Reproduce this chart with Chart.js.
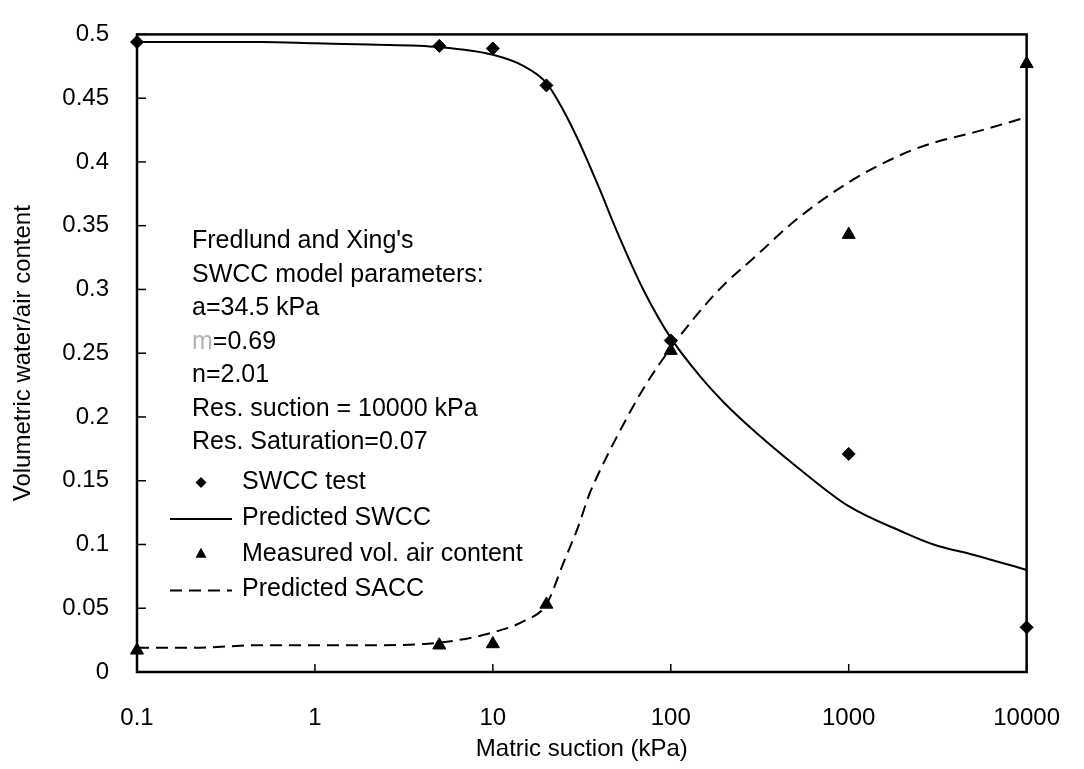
<!DOCTYPE html>
<html>
<head>
<meta charset="utf-8">
<title>SWCC and SACC</title>
<script src="https://cdn.jsdelivr.net/npm/chart.js@4.4.1/dist/chart.umd.min.js"></script>
<style>
    html, body { margin: 0; padding: 0; background: #fff; }
</style>
</head>
<body>
<canvas id="soilChart" width="1084" height="769"></canvas>
<script>
// measured points
const suctionTest = [0.1, 5, 10, 20, 100, 1000, 10000]
const swccTest = [0.494, 0.491, 0.489, 0.460, 0.260, 0.171, 0.035]
const airMeasured = [0.017, 0.021, 0.022, 0.053, 0.252, 0.343, 0.477]

// predicted curves
const suctionModel = [0.1, 0.2, 0.5, 1, 2, 5, 10, 15, 20, 25, 30, 35, 40, 50, 70,
    100, 150, 200, 300, 500, 1000, 2000, 3000, 5000, 10000]
const swccPredicted = [0.494, 0.494, 0.494, 0.493, 0.492, 0.490, 0.484, 0.475, 0.462, 0.440, 0.418,
    0.397, 0.378, 0.345, 0.300, 0.262, 0.230, 0.211, 0.188, 0.162, 0.130, 0.110, 0.100, 0.092, 0.080]
const saccPredicted = [0.019, 0.019, 0.021, 0.021, 0.021, 0.023, 0.031, 0.040, 0.053, 0.086, 0.113,
    0.140, 0.158, 0.185, 0.222, 0.254, 0.285, 0.304, 0.326, 0.354, 0.384, 0.406, 0.415, 0.423, 0.435]

const xTicks = [0.1, 1, 10, 100, 1000, 10000]
const yTicks = [0, 0.05, 0.1, 0.15, 0.2, 0.25, 0.3, 0.35, 0.4, 0.45, 0.5]

const paramLines = ["Fredlund and Xing's", 'SWCC model parameters:', 'a=34.5 kPa', '=0.69',
    'n=2.01', 'Res. suction = 10000 kPa', 'Res. Saturation=0.07']

const FONT = '"Liberation Sans", Arial, Helvetica, sans-serif'

function toPoints(xs, ys) {
    return xs.map(function (x, i) { return { x: x, y: ys[i] } })
}

// box round the plot plus inward tick marks
const frame = {
    id: 'frame',
    beforeDatasetsDraw(chart) {
        const ctx = chart.ctx
        const a = chart.chartArea
        const xs = chart.scales.x
        const ys = chart.scales.y
        ctx.save()
        ctx.strokeStyle = '#000'
        ctx.lineWidth = 1.5
        xTicks.forEach(function (v) {
            const px = xs.getPixelForValue(v)
            ctx.beginPath()
            ctx.moveTo(px, a.bottom)
            ctx.lineTo(px, a.bottom - 8)
            ctx.stroke()
        })
        yTicks.forEach(function (v) {
            const py = ys.getPixelForValue(v)
            ctx.beginPath()
            ctx.moveTo(a.left, py)
            ctx.lineTo(a.left + 9, py)
            ctx.stroke()
        })
        ctx.lineWidth = 2.5
        ctx.strokeRect(a.left, a.top, a.right - a.left, a.bottom - a.top)
        ctx.restore()
    }
}

// parameter note and key, drawn inside the plot
const noteBox = {
    id: 'noteBox',
    afterDraw(chart) {
        const ctx = chart.ctx
        const a = chart.chartArea
        const x0 = a.left + 55
        let y = a.top + 207
        ctx.save()
        ctx.font = '25px ' + FONT
        ctx.textBaseline = 'middle'
        ctx.textAlign = 'left'
        paramLines.forEach(function (line, i) {
            if (i === 3) {
                ctx.fillStyle = '#b5b5b5'
                ctx.fillText('m', x0, y)
                ctx.fillStyle = '#000'
                ctx.fillText(line, x0 + ctx.measureText('m').width, y)
            } else {
                ctx.fillStyle = '#000'
                ctx.fillText(line, x0, y)
            }
            y += 33.5
        })

        const keyX = a.left + 105
        const markX = a.left + 64
        let ky = a.top + 448
        chart.data.datasets.forEach(function () {})
        const keys = ['SWCC test', 'Predicted SWCC', 'Measured vol. air content', 'Predicted SACC']
        keys.forEach(function (label) {
            const ds = chart.data.datasets.find(function (d) { return d.label === label })
            ctx.fillStyle = '#000'
            ctx.strokeStyle = '#000'
            if (ds.showLine) {
                ctx.lineWidth = ds.borderWidth
                ctx.setLineDash(ds.borderDash || [])
                ctx.beginPath()
                ctx.moveTo(a.left + 33, ky + 1)
                ctx.lineTo(a.left + 95, ky + 1)
                ctx.stroke()
                ctx.setLineDash([])
            } else if (ds.pointStyle === 'rectRot') {
                ctx.beginPath()
                ctx.moveTo(markX, ky - 5.5)
                ctx.lineTo(markX + 5.5, ky)
                ctx.lineTo(markX, ky + 5.5)
                ctx.lineTo(markX - 5.5, ky)
                ctx.closePath()
                ctx.fill()
            } else {
                ctx.beginPath()
                ctx.moveTo(markX, ky - 6)
                ctx.lineTo(markX + 5.5, ky + 4)
                ctx.lineTo(markX - 5.5, ky + 4)
                ctx.closePath()
                ctx.fill()
            }
            ctx.fillText(label, keyX, ky)
            ky += 35.7
        })
        ctx.restore()
    }
}

function create_chart(targetId) {
    let ctx = document.getElementById(targetId)
    return new Chart(ctx, {
        type: 'scatter',
        data: {
            datasets: [
                {
                    label: 'SWCC test',
                    data: toPoints(suctionTest, swccTest),
                    pointStyle: 'rectRot',
                    pointRadius: 6.5,
                    backgroundColor: '#000',
                    borderColor: '#000',
                    borderWidth: 1,
                    showLine: false,
                    clip: false
                },
                {
                    label: 'Measured vol. air content',
                    data: toPoints(suctionTest, airMeasured),
                    pointStyle: 'triangle',
                    pointRadius: 7.5,
                    backgroundColor: '#000',
                    borderColor: '#000',
                    borderWidth: 1,
                    showLine: false,
                    clip: false
                },
                {
                    label: 'Predicted SWCC',
                    data: toPoints(suctionModel, swccPredicted),
                    showLine: true,
                    pointRadius: 0,
                    borderColor: '#000',
                    borderWidth: 2,
                    cubicInterpolationMode: 'monotone'
                },
                {
                    label: 'Predicted SACC',
                    data: toPoints(suctionModel, saccPredicted),
                    showLine: true,
                    pointRadius: 0,
                    borderColor: '#000',
                    borderWidth: 2,
                    borderDash: [12, 7],
                    cubicInterpolationMode: 'monotone'
                }
            ]
        },
        options: {
            responsive: false,
            animation: false,
            layout: { padding: { top: 20, right: 39, left: 0, bottom: 0 } },
            plugins: {
                legend: { display: false },
                tooltip: { enabled: false }
            },
            scales: {
                x: {
                    type: 'logarithmic',
                    min: 0.1,
                    max: 10000,
                    afterBuildTicks: function (axis) { axis.ticks = xTicks.map(function (v) { return { value: v } }) },
                    afterFit: function (s) { s.height = 97 },
                    grid: { display: false },
                    border: { display: false },
                    ticks: {
                        color: '#000',
                        font: { family: FONT, size: 24 },
                        padding: 24,
                        autoSkip: false,
                        maxRotation: 0,
                        callback: function (v) { return String(v) }
                    },
                    title: {
                        display: true,
                        text: 'Matric suction (kPa)',
                        color: '#000',
                        font: { family: FONT, size: 24 },
                        padding: { top: 0, bottom: 5 }
                    }
                },
                y: {
                    min: 0,
                    max: 0.5,
                    afterBuildTicks: function (axis) { axis.ticks = yTicks.map(function (v) { return { value: v } }) },
                    afterFit: function (s) { s.width = 137 },
                    grid: { display: false },
                    border: { display: false },
                    ticks: {
                        color: '#000',
                        font: { family: FONT, size: 24 },
                        padding: 20,
                        callback: function (v) { return String(v) }
                    },
                    title: {
                        display: true,
                        text: 'Volumetric water/air content',
                        color: '#000',
                        font: { family: FONT, size: 24 },
                        padding: { top: 9, bottom: 0 }
                    }
                }
            }
        },
        plugins: [frame, noteBox]
    })
}

create_chart('soilChart')
</script>
</body>
</html>
